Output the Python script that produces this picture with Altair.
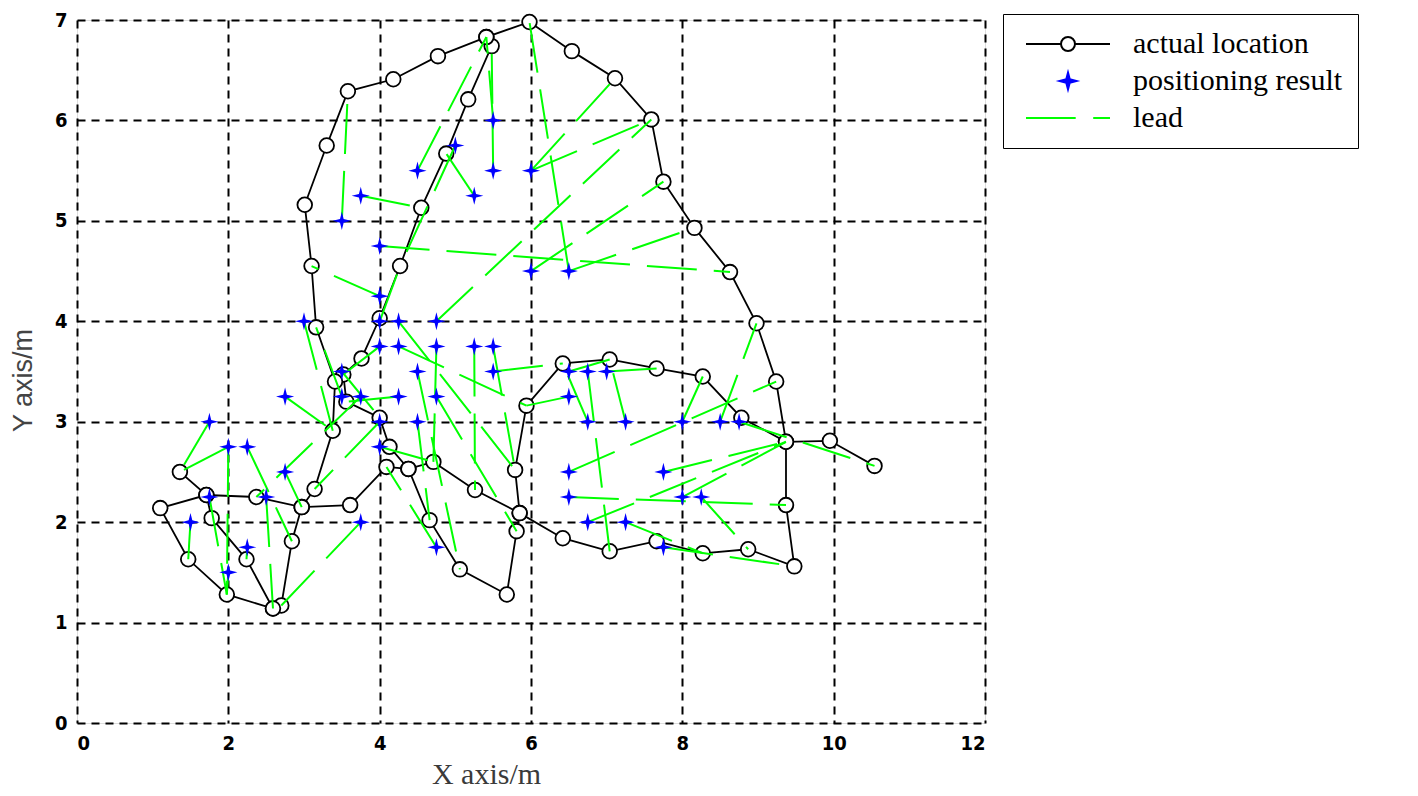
import altair as alt
import pandas as pd

SERIES = ["actual location", "positioning result", "lead"]

# actual trajectory (two continuous pieces of the same track)
PATH_X = [10.54, 9.95, 9.37, 8.78, 8.27, 7.66, 7.04, 6.42, 5.94, 5.79, 5.85, 5.81, 5.68, 5.06,
          4.66, 4.38, 4.71, 5.26, 5.85, 6.42, 7.04, 7.66, 8.27, 8.87, 9.48, 9.37, 9.37, 9.24,
          8.98, 8.63, 8.16, 7.75, 7.59, 7.11, 6.54, 5.98, 5.41, 5.48, 5.17, 4.88, 4.55, 4.27,
          4.00, 3.76, 3.52, 3.56, 4.00, 4.13, 4.38, 4.09, 3.61, 2.97, 2.37, 1.71, 1.10, 1.47,
          1.98, 2.59, 2.24, 1.78, 1.71, 1.36,
          5.41, 4.77, 4.18, 3.58, 3.30, 3.01, 3.10, 3.16, 3.41, 3.38, 3.14, 2.97, 2.84, 2.70, 2.59]
PATH_Y = [2.56, 2.81, 2.80, 3.04, 3.45, 3.53, 3.62, 3.58, 3.16, 2.52, 2.09, 1.91, 1.28, 1.53,
          2.02, 2.53, 2.60, 2.32, 2.09, 1.84, 1.71, 1.81, 1.69, 1.73, 1.56, 2.17, 2.80, 3.40,
          3.98, 4.49, 4.93, 5.39, 6.01, 6.42, 6.69, 6.98, 6.83, 6.74, 6.21, 5.67, 5.13, 4.55,
          4.03, 3.63, 3.47, 3.20, 3.04, 2.75, 2.53, 2.55, 2.17, 2.15, 2.25, 2.27, 2.14, 1.63,
          1.28, 1.14, 1.63, 2.04, 2.27, 2.50,
          6.83, 6.64, 6.41, 6.29, 5.75, 5.16, 4.55, 3.94, 3.40, 2.91, 2.33, 2.15, 1.81, 1.17, 1.14]
PATH_PIECE = [0] * 62 + [1] * 15

# positioning results
POS_X = [5.5, 4.5, 5.5, 6.0, 5.0, 5.25, 3.75, 3.5, 4.0, 6.0, 6.5, 4.0, 3.0, 4.0, 4.25, 4.75,
         4.0, 4.25, 4.75, 5.25, 5.5, 3.5, 4.5, 5.5, 6.5, 6.75, 7.0, 3.5, 3.75, 2.75, 4.25, 4.75,
         6.5, 1.75, 4.0, 4.5, 6.75, 7.25, 8.0, 8.5, 8.75, 2.0, 2.25, 4.0, 2.75, 6.5, 7.75, 1.75,
         2.5, 6.5, 8.0, 8.25, 1.5, 3.75, 6.75, 7.25, 2.25, 4.75, 7.75, 2.0]
POS_Y = [6.0, 5.5, 5.5, 5.5, 5.75, 5.25, 5.25, 5.0, 4.75, 4.5, 4.5, 4.25, 4.0, 4.0, 4.0, 4.0,
         3.75, 3.75, 3.75, 3.75, 3.75, 3.5, 3.5, 3.5, 3.5, 3.5, 3.5, 3.25, 3.25, 3.25, 3.25, 3.25,
         3.25, 3.0, 3.0, 3.0, 3.0, 3.0, 3.0, 3.0, 3.0, 2.75, 2.75, 2.75, 2.5, 2.5, 2.5, 2.25,
         2.25, 2.25, 2.25, 2.25, 2.0, 2.0, 2.0, 2.0, 1.75, 1.75, 1.75, 1.5]

# leads: positioning result -> actual location
LEAD_X1 = [5.5, 4.5, 5.5, 6.0, 6.0, 5.0, 5.25, 3.75, 3.5, 4.0, 6.0, 6.5, 6.5, 4.0, 3.0, 4.0,
           4.25, 4.75, 4.0, 4.25, 4.75, 5.25, 5.5, 3.5, 4.5, 5.5, 6.5, 6.75, 7.0, 3.5, 3.75,
           2.75, 4.25, 4.75, 6.5, 1.75, 4.0, 4.5, 6.75, 7.25, 8.0, 8.5, 8.75, 2.0, 2.0, 2.25,
           4.0, 2.75, 6.5, 7.75, 1.75, 2.5, 6.5, 8.0, 8.25, 1.5, 3.75, 6.75, 7.25, 2.25, 4.75,
           7.75, 2.0]
LEAD_Y1 = [6.0, 5.5, 5.5, 5.5, 5.5, 5.75, 5.25, 5.25, 5.0, 4.75, 4.5, 4.5, 4.5, 4.25, 4.0, 4.0,
           4.0, 4.0, 3.75, 3.75, 3.75, 3.75, 3.75, 3.5, 3.5, 3.5, 3.5, 3.5, 3.5, 3.25, 3.25,
           3.25, 3.25, 3.25, 3.25, 3.0, 3.0, 3.0, 3.0, 3.0, 3.0, 3.0, 3.0, 2.75, 2.75, 2.75,
           2.75, 2.5, 2.5, 2.5, 2.25, 2.25, 2.25, 2.25, 2.25, 2.0, 2.0, 2.0, 2.0, 1.75, 1.75,
           1.75, 1.5]
LEAD_X2 = [5.41, 5.41, 5.48, 7.59, 7.11, 4.27, 4.88, 4.55, 3.58, 8.63, 7.75, 8.16, 5.98, 3.10,
           3.38, 4.27, 5.79, 7.59, 3.52, 5.94, 4.71, 5.26, 5.79, 4.00, 5.06, 6.42, 7.04, 7.04,
           7.66, 3.16, 2.37, 3.38, 3.56, 5.81, 5.94, 1.36, 3.14, 4.66, 6.42, 7.04, 8.27, 8.98,
           10.54, 1.36, 1.98, 2.84, 4.71, 2.97, 9.24, 9.37, 1.98, 2.59, 9.37, 9.37, 8.87, 1.47,
           2.70, 9.37, 8.27, 2.24, 4.09, 9.48, 1.98]
LEAD_Y2 = [6.83, 6.83, 6.74, 6.01, 6.42, 4.55, 5.67, 5.13, 6.29, 4.49, 5.39, 4.93, 6.98, 4.55,
           2.91, 4.55, 2.52, 6.01, 3.47, 3.16, 2.60, 2.32, 2.52, 3.04, 1.53, 3.58, 3.62, 1.71,
           3.53, 3.94, 2.25, 2.91, 3.20, 1.91, 3.16, 2.50, 2.33, 2.02, 3.58, 3.62, 3.45, 3.98,
           2.56, 2.50, 1.28, 1.81, 2.60, 2.15, 3.40, 2.80, 1.28, 1.14, 2.17, 2.80, 1.73, 1.63,
           1.17, 2.80, 1.69, 1.63, 2.55, 1.56, 1.28]

X_TICKS = [0, 2, 4, 6, 8, 10, 12]
Y_TICKS = [0, 1, 2, 3, 4, 5, 6, 7]

path_df = pd.DataFrame({"x": PATH_X, "y": PATH_Y, "piece": PATH_PIECE,
                        "idx": list(range(len(PATH_X)))})
pos_df = pd.DataFrame({"x": POS_X, "y": POS_Y})
lead_df = pd.DataFrame({"x": LEAD_X1, "y": LEAD_Y1, "x2": LEAD_X2, "y2": LEAD_Y2})
legend_df = pd.DataFrame({"series": SERIES})

STAR = "M0,-1L0.2,-0.2L1,0L0.2,0.2L0,1L-0.2,0.2L-1,0L-0.2,-0.2Z"
LEG_ACT = "M-1,0H4M4,0A1,1,0,1,1,6,0A1,1,0,1,1,4,0M6,0H11"
LEG_STAR = "M5,-1.2L5.25,-0.25L6.2,0L5.25,0.25L5,1.2L4.75,0.25L3.8,0L4.75,-0.25Z"
LEG_LEAD = "M-1,0H6.1M8.6,0H11"

TICK_FONT = "DejaVu Sans Condensed, DejaVu Sans"

xs = alt.Scale(domain=[0, 12], nice=False, zero=False)
ys = alt.Scale(domain=[0, 7], nice=False, zero=False)
x_axis = alt.Axis(values=X_TICKS, title="X axis/m", grid=True, ticks=False, domain=False,
                  labelFont=TICK_FONT, labelFontWeight="bold", labelFontSize=20,
                  labelColor="black", labelPadding=10, titleFont="Liberation Serif",
                  titleFontSize=30, titleFontWeight="normal", titleColor="#3a3a3a",
                  titleX=409, titleY=51, titleBaseline="middle",
                  gridColor="black", gridDash=[8, 6], gridWidth=2, gridOpacity=1)
y_axis = alt.Axis(values=Y_TICKS, title="Y axis/m", grid=True, ticks=False, domain=False,
                  labelFont=TICK_FONT, labelFontWeight="bold", labelFontSize=20,
                  labelColor="black", labelPadding=10, titleFont="Liberation Sans",
                  titleFontSize=27, titleFontWeight="normal", titleColor="#444444",
                  titleX=-54, titleY=360, titleBaseline="middle", titleAngle=-90,
                  gridColor="black", gridDash=[8, 6], gridWidth=2, gridOpacity=1)

X = alt.X("x:Q", scale=xs, axis=x_axis)
Y = alt.Y("y:Q", scale=ys, axis=y_axis)

track = alt.Chart(path_df).mark_line(color="black", strokeWidth=1.8).encode(
    x=X, y=Y, detail="piece:N", order="idx:Q")

circles = alt.Chart(path_df).mark_point(
    shape="circle", size=215, filled=True, fill="white", stroke="black",
    strokeWidth=1.8, opacity=1).encode(x=X, y=Y)

leads = alt.Chart(lead_df).mark_rule(
    color="#00ff00", strokeWidth=2, strokeDash=[50, 17]).encode(
    x=X, y=Y, x2="x2:Q", y2="y2:Q")

stars = alt.Chart(pos_df).mark_point(
    shape=STAR, size=330, filled=True, color="#0000ff", opacity=1).encode(x=X, y=Y)

leg = alt.Legend(orient="none", legendX=926, legendY=-6, title=None, padding=15,
                 strokeColor="black", fillColor="white", labelFont="Liberation Serif",
                 labelFontSize=30, labelColor="black", labelLimit=500, labelOffset=85,
                 rowPadding=7, symbolSize=196, symbolStrokeWidth=2)

legend_layer = alt.Chart(legend_df).transform_filter("false").mark_point(
    filled=True, opacity=1, strokeWidth=2).encode(
    stroke=alt.Stroke("series:N", scale=alt.Scale(domain=SERIES,
                      range=["black", "#0000ff", "#00ff00"]), legend=leg),
    fill=alt.Fill("series:N", scale=alt.Scale(domain=SERIES,
                  range=["white", "#0000ff", "white"]), legend=leg),
    shape=alt.Shape("series:N", scale=alt.Scale(domain=SERIES,
                    range=[LEG_ACT, LEG_STAR, LEG_LEAD]), legend=leg),
)

chart = alt.layer(track, circles, leads, stars, legend_layer).properties(
    width=908, height=703,
    autosize=alt.AutoSizeParams(type="none"),
    padding={"left": 69, "top": 12, "right": 420, "bottom": 65},
).configure_view(stroke="black", strokeWidth=2).configure(background="white")

chart.save("out.html", embed_options={"renderer": "svg", "actions": False})
